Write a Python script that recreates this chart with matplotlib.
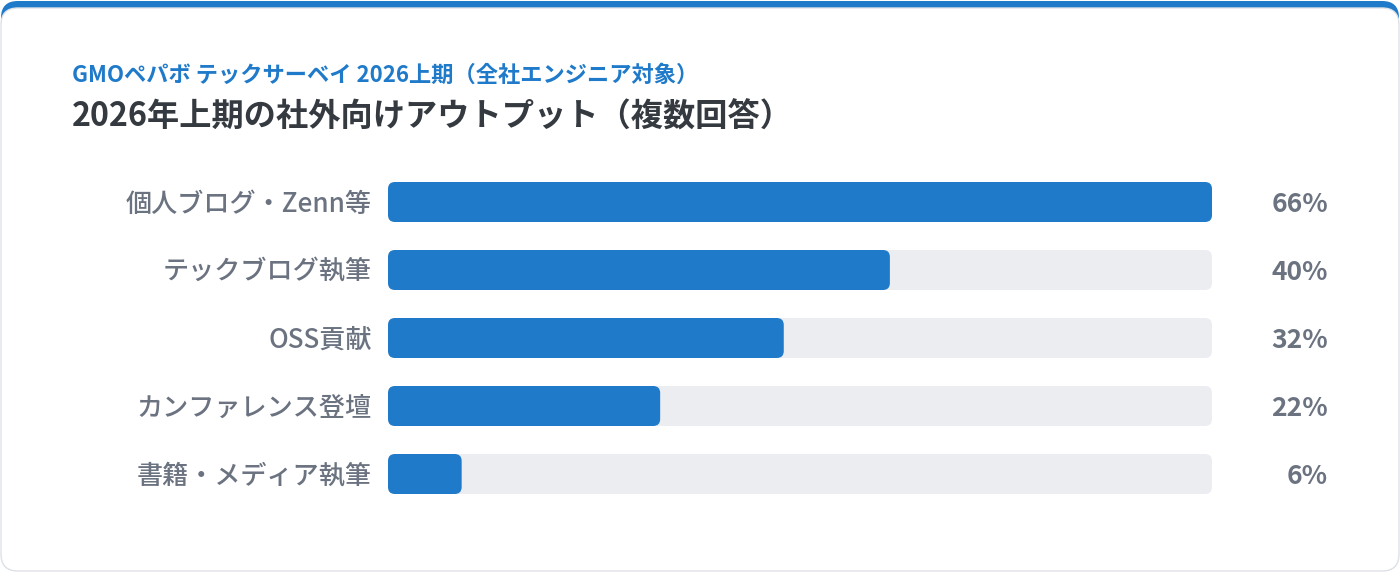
import matplotlib.pyplot as plt
from matplotlib.patches import FancyBboxPatch

plt.rcParams['font.family'] = ['Noto Sans CJK JP', 'DejaVu Sans']

## chart data (bar lengths, labels shown rounded)
categories = ['個人ブログ・Zenn等', 'テックブログ執筆', 'OSS貢献', 'カンファレンス登壇', '書籍・メディア執筆']
values = [66, 40.2, 31.7, 21.8, 5.9]
subtitle = 'GMOペパボ テックサーベイ 2026上期（全社エンジニア対象）'
title = '2026年上期の社外向けアウトプット（複数回答）'

BLUE = '#1f7aca'
TRACK = '#ebedf0'
GRAY = '#6b7280'
DARK = '#343a40'

W, H = 1400, 572
fig = plt.figure(figsize=(W / 100, H / 100), dpi=100)
fig.patch.set_facecolor('white')

# card with blue top border
fig.patches.append(FancyBboxPatch((1 / W, 1 / H), 1 - 2 / W, 1 - 2 / H,
                                  boxstyle='round,pad=0,rounding_size=0.012',
                                  mutation_aspect=W / H, transform=fig.transFigure,
                                  facecolor=BLUE, edgecolor='none', zorder=0))
fig.patches.append(FancyBboxPatch((1 / W, 1 / H), 1 - 2 / W, 1 - 9 / H,
                                  boxstyle='round,pad=0,rounding_size=0.012',
                                  mutation_aspect=W / H, transform=fig.transFigure,
                                  facecolor='white', edgecolor='#dfe2e6', lw=1, zorder=1))

fig.text(72 / W, 1 - 75 / H, subtitle, color=BLUE, fontsize=16, fontweight='bold',
         va='center', ha='left')
fig.text(72 / W, 1 - 117 / H, title, color=DARK, fontsize=23.2, fontweight='bold',
         va='center', ha='left')

# bar area
x0, x1 = 388, 1212
top, bottom = 168, 508
ax = fig.add_axes([x0 / W, 1 - bottom / H, (x1 - x0) / W, (bottom - top) / H])
ax.set_zorder(2)
ax.patch.set_alpha(0)
vmax = max(values)
n = len(categories)
ax.set_xlim(0, vmax)
ax.set_ylim(n - 0.5, -0.5)
ax.axis('off')

px_x = vmax / (x1 - x0)
px_y = n / (bottom - top)
aspect = px_y / px_x
bh = 40 * px_y
r = 7 * px_x

for i, (cat, v) in enumerate(zip(categories, values)):
    ax.add_patch(FancyBboxPatch((0, i - bh / 2), vmax, bh,
                                boxstyle=f'round,pad=0,rounding_size={r}',
                                mutation_aspect=aspect, facecolor=TRACK, edgecolor='none'))
    ax.add_patch(FancyBboxPatch((0, i - bh / 2), v, bh,
                                boxstyle=f'round,pad=0,rounding_size={r}',
                                mutation_aspect=aspect, facecolor=BLUE, edgecolor='none'))
    ax.text(-16 * px_x, i + 2 * px_y, cat, ha='right', va='center', color=GRAY,
            fontsize=18.8, fontweight='medium', clip_on=False)
    ax.text(vmax + 116 * px_x, i + 2 * px_y, f'{v:.0f}%', ha='right', va='center',
            color=GRAY, fontsize=19, fontweight='bold', clip_on=False)

fig.savefig('out.png', dpi=100, facecolor='white')
